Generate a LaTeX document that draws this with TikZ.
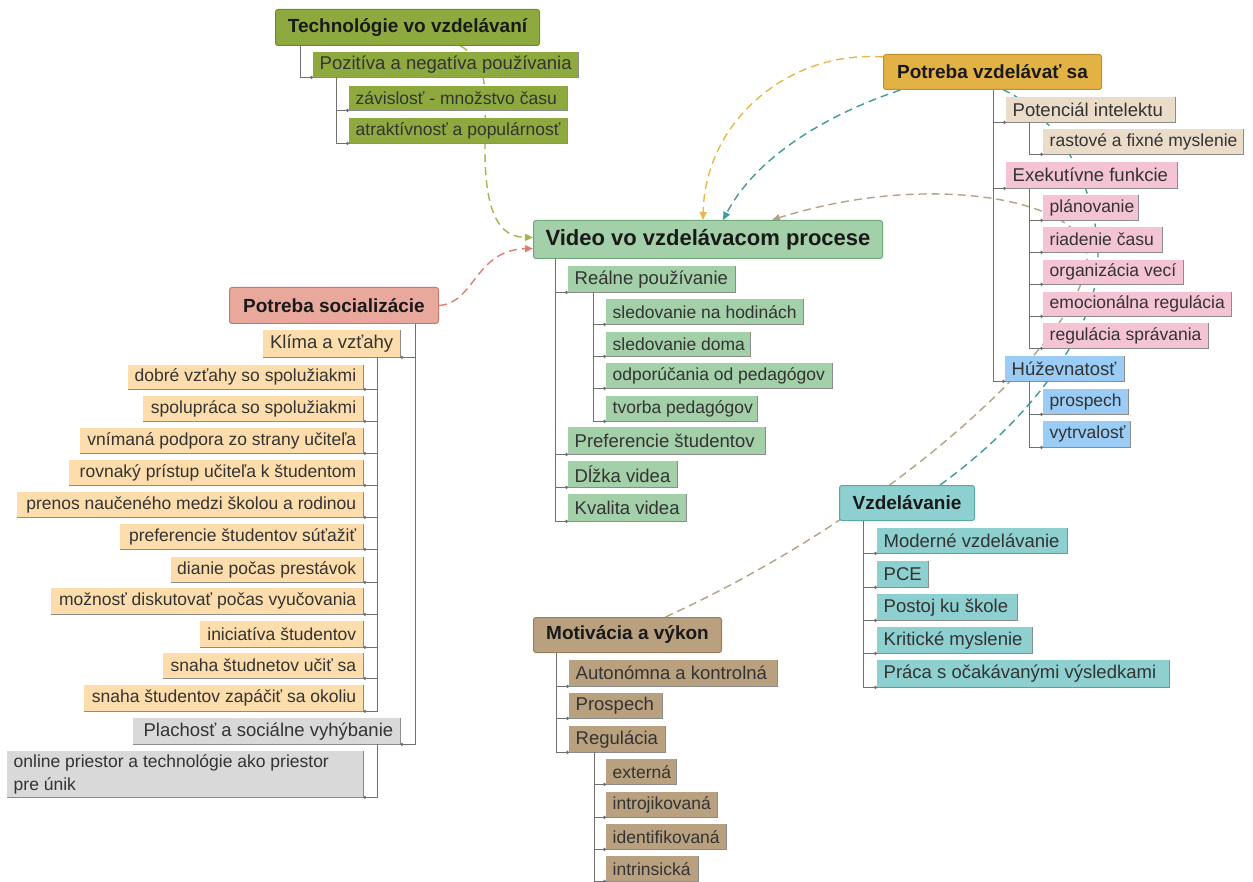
\documentclass[tikz,border=0pt]{standalone}
\usepackage{fontspec}
\setmainfont{Liberation Sans}
\usetikzlibrary{arrows.meta,calc}
\pgfdeclarelayer{background}
\pgfsetlayers{background,main}

\definecolor{cTech}{HTML}{8EAA3E}
\definecolor{cTechB}{HTML}{6E8A2A}
\definecolor{cVid}{HTML}{A3CFA9}
\definecolor{cVidB}{HTML}{6FA87A}
\definecolor{cGold}{HTML}{E2B245}
\definecolor{cGoldB}{HTML}{C09030}
\definecolor{cBeige}{HTML}{EADCC8}
\definecolor{cPink}{HTML}{F4C4D4}
\definecolor{cBlue}{HTML}{9ACCF5}
\definecolor{cSal}{HTML}{E8A89C}
\definecolor{cSalB}{HTML}{C47A6E}
\definecolor{cPeach}{HTML}{FDDDAB}
\definecolor{cGray}{HTML}{D9D9D9}
\definecolor{cTan}{HTML}{B9A17F}
\definecolor{cTanB}{HTML}{957E5E}
\definecolor{cTeal}{HTML}{8ECFCF}
\definecolor{cTealB}{HTML}{5AA6A6}
\definecolor{lGreen}{HTML}{9DB94C}
\definecolor{lRed}{HTML}{D9816F}
\definecolor{lOrange}{HTML}{E8B74A}
\definecolor{lTeal}{HTML}{3E9C9C}
\definecolor{lBrown}{HTML}{B3A284}
\definecolor{treeC}{HTML}{707070}
\definecolor{txtC}{HTML}{333333}

\newcommand{\fsA}{\fontsize{18.5}{22}\selectfont}
\newcommand{\fsB}{\fontsize{17.5}{22}\selectfont}

\tikzset{
  hdr/.style={rounded corners=2.5pt, line width=1pt, inner sep=0pt,
    font=\fontsize{19}{22}\selectfont\bfseries, text=black!90},
  chl/.style={draw=none, inner sep=0pt},
  chtxt/.style={inner sep=0pt, text=txtC},
  shadowl/.style={draw=black!45, line width=0.8pt},
  tree/.style={draw=treeC, line width=0.9pt, -{Circle[length=3pt]}},
  dcurve/.style={line width=1.4pt, dash pattern=on 8pt off 5pt,
    -{Triangle[length=8pt,width=7pt]}},
  dplain/.style={line width=1.4pt, dash pattern=on 8pt off 5pt},
}

% name x1 y1 x2 y2 fill border text
\newcommand{\hdrbox}[8]{%
  \pgfmathsetmacro{\mybw}{#4-#2}\pgfmathsetmacro{\mybh}{#5-#3}%
  \node[hdr, fill=#6, draw=#7, minimum width=\mybw pt, minimum height=\mybh pt,
    anchor=north west] (#1) at (#2,#3) {#8};}

% name x1 y1 x2 y2 fill side(l/r) size text
\newcommand{\chbox}[9]{%
  \pgfmathsetmacro{\mybw}{#4-#2}\pgfmathsetmacro{\mybh}{#5-#3}%
  \node[chl, fill=#6, minimum width=\mybw pt, minimum height=\mybh pt,
    anchor=north west] (#1) at (#2,#3) {};
  \draw[shadowl] (#1.south west) -- (#1.south east) -- (#1.north east);
  \ifx#7l%
    \node[chtxt, anchor=west, font=#8, align=left] (#1t) at ([xshift=6.5pt]#1.west) {#9};
  \else
    \node[chtxt, anchor=east, font=#8, align=right] (#1t) at ([xshift=-7pt]#1.east) {#9};
  \fi}

\begin{document}
\begin{tikzpicture}[x=1pt,y=-1pt]
\useasboundingbox (0,0) rectangle (1253,882);

% headers
\hdrbox{tech}{275}{9}{539}{45}{cTech}{cTechB}{Technológie vo vzdelávaní}
\hdrbox{video}{533}{220}{882}{258}{cVid}{cVidB}{\fontsize{22}{26}\selectfont Video vo vzdelávacom procese}
\hdrbox{vzdel}{883}{54}{1101}{89}{cGold}{cGoldB}{Potreba vzdelávať sa}
\hdrbox{soc}{229}{287}{438}{323}{cSal}{cSalB}{Potreba socializácie}
\hdrbox{motiv}{533}{617}{721}{652}{cTan}{cTanB}{Motivácia a výkon}
\hdrbox{vzdv}{839}{485}{974}{520}{cTeal}{cTealB}{Vzdelávanie}

% Technologie
\chbox{poz}{313}{52}{578}{77}{cTech}{l}{\fsA}{Pozitíva a negatíva používania}
\chbox{zav}{349}{86}{567}{110}{cTech}{l}{\fsB}{závislosť - množstvo času}
\chbox{atr}{349}{118}{567}{143}{cTech}{l}{\fsB}{atraktívnosť a populárnosť}

% Video
\chbox{rea}{568}{266}{735}{292}{cVid}{l}{\fsA}{Reálne používanie}
\chbox{slA}{606}{299}{803}{324}{cVid}{l}{\fsB}{sledovanie na hodinách}
\chbox{slB}{606}{332}{750}{356}{cVid}{l}{\fsB}{sledovanie doma}
\chbox{odp}{606}{363}{832}{388}{cVid}{l}{\fsB}{odporúčania od pedagógov}
\chbox{tvo}{606}{396}{757}{421}{cVid}{l}{\fsB}{tvorba pedagógov}
\chbox{pre}{568}{427}{765}{454}{cVid}{l}{\fsA}{Preferencie študentov}
\chbox{dlz}{568}{461}{677}{487}{cVid}{l}{\fsA}{Dĺžka videa}
\chbox{kva}{568}{494}{686}{521}{cVid}{l}{\fsA}{Kvalita videa}

% Potreba vzdelavat sa
\chbox{pot}{1006}{97}{1175}{122}{cBeige}{l}{\fsA}{Potenciál intelektu}
\chbox{ras}{1043}{129}{1243}{154}{cBeige}{l}{\fsB}{rastové a fixné myslenie}
\chbox{exe}{1006}{162}{1177}{188}{cPink}{l}{\fsA}{Exekutívne funkcie}
\chbox{pla}{1043}{195}{1138}{220}{cPink}{l}{\fsB}{plánovanie}
\chbox{ria}{1043}{227}{1162}{252}{cPink}{l}{\fsB}{riadenie času}
\chbox{org}{1043}{260}{1183}{284}{cPink}{l}{\fsB}{organizácia vecí}
\chbox{emo}{1043}{292}{1231}{316}{cPink}{l}{\fsB}{emocionálna regulácia}
\chbox{reg}{1043}{323}{1208}{348}{cPink}{l}{\fsB}{regulácia správania}
\chbox{huz}{1005}{356}{1124}{381}{cBlue}{l}{\fsA}{Húževnatosť}
\chbox{prs}{1043}{389}{1128}{414}{cBlue}{l}{\fsB}{prospech}
\chbox{vyt}{1043}{421}{1130}{447}{cBlue}{l}{\fsB}{vytrvalosť}

% Potreba socializacie
\chbox{kli}{263}{330}{400}{357}{cPeach}{r}{\fsA}{Klíma a vzťahy}
\chbox{kA}{128}{365}{363}{389}{cPeach}{r}{\fsB}{dobré vzťahy so spolužiakmi}
\chbox{kB}{143}{396}{363}{421}{cPeach}{r}{\fsB}{spolupráca so spolužiakmi}
\chbox{kC}{80}{428}{363}{453}{cPeach}{r}{\fsB}{vnímaná podpora zo strany učiteľa}
\chbox{kD}{69}{460}{363}{485}{cPeach}{r}{\fsB}{rovnaký prístup učiteľa k študentom}
\chbox{kE}{17}{492}{363}{517}{cPeach}{r}{\fsB}{prenos naučeného medzi školou a rodinou}
\chbox{kF}{120}{524}{363}{549}{cPeach}{r}{\fsB}{preferencie študentov súťažiť}
\chbox{kG}{171}{557}{363}{582}{cPeach}{r}{\fsB}{dianie počas prestávok}
\chbox{kH}{51}{588}{363}{614}{cPeach}{r}{\fsB}{možnosť diskutovať počas vyučovania}
\chbox{kI}{200}{621}{363}{647}{cPeach}{r}{\fsB}{iniciatíva študentov}
\chbox{kJ}{163}{653}{363}{678}{cPeach}{r}{\fsB}{snaha študnetov učiť sa}
\chbox{kK}{84}{685}{363}{711}{cPeach}{r}{\fsB}{snaha študentov zapáčiť sa okoliu}
\chbox{plh}{133}{718}{400}{744}{cGray}{r}{\fsA}{Plachosť a sociálne vyhýbanie}
\chbox{onl}{7}{751}{363}{797}{cGray}{l}{\fontsize{17.5}{23}\selectfont}{online priestor a technológie ako priestor\\pre únik}

% Motivacia
\chbox{aut}{569}{660}{777}{686}{cTan}{l}{\fsA}{Autonómna a kontrolná}
\chbox{prp}{569}{693}{662}{718}{cTan}{l}{\fsA}{Prospech}
\chbox{rgl}{569}{726}{665}{752}{cTan}{l}{\fsA}{Regulácia}
\chbox{ext}{606}{759}{676}{784}{cTan}{l}{\fsB}{externá}
\chbox{int}{606}{792}{717}{817}{cTan}{l}{\fsB}{introjikovaná}
\chbox{ide}{606}{824}{726}{849}{cTan}{l}{\fsB}{identifikovaná}
\chbox{ins}{606}{856}{698}{881}{cTan}{l}{\fsB}{intrinsická}

% Vzdelavanie
\chbox{mod}{877}{528}{1067}{553}{cTeal}{l}{\fsA}{Moderné vzdelávanie}
\chbox{pce}{877}{561}{928}{587}{cTeal}{l}{\fsA}{PCE}
\chbox{pos}{877}{594}{1017}{620}{cTeal}{l}{\fsA}{Postoj ku škole}
\chbox{kri}{877}{627}{1032}{653}{cTeal}{l}{\fsA}{Kritické myslenie}
\chbox{pra}{877}{660}{1169}{687}{cTeal}{l}{\fsA}{Práca s očakávanými výsledkami}

% tree connectors
\foreach \c in {poz} \draw[tree] ($(tech.south west)+(25,0)$) |- (\c.south west);
\foreach \c in {zav,atr} \draw[tree] ($(poz.south west)+(23,0)$) |- (\c.south west);
\foreach \c in {rea,pre,dlz,kva} \draw[tree] ($(video.south west)+(22,0)$) |- (\c.south west);
\foreach \c in {slA,slB,odp,tvo} \draw[tree] ($(rea.south west)+(25,0)$) |- (\c.south west);
\foreach \c in {pot,exe,huz} \draw[tree] ($(vzdel.south west)+(110,0)$) |- (\c.south west);
\foreach \c in {ras} \draw[tree] ($(pot.south west)+(23,0)$) |- (\c.south west);
\foreach \c in {pla,ria,org,emo,reg} \draw[tree] ($(exe.south west)+(23,0)$) |- (\c.south west);
\foreach \c in {prs,vyt} \draw[tree] ($(huz.south west)+(24,0)$) |- (\c.south west);
\foreach \c in {kli,plh} \draw[tree] ($(soc.south east)+(-24,0)$) |- (\c.south east);
\foreach \c in {kA,kB,kC,kD,kE,kF,kG,kH,kI,kJ,kK} \draw[tree] ($(kli.south east)+(-23,0)$) |- (\c.south east);
\foreach \c in {onl} \draw[tree] ($(plh.south east)+(-23,0)$) |- (\c.south east);
\foreach \c in {aut,prp,rgl} \draw[tree] ($(motiv.south west)+(23,0)$) |- (\c.south west);
\foreach \c in {ext,int,ide,ins} \draw[tree] ($(rgl.south west)+(25,0)$) |- (\c.south west);
\foreach \c in {mod,pce,pos,kri,pra} \draw[tree] ($(vzdv.south west)+(24,0)$) |- (\c.south west);

% dashed relations (behind boxes)
\begin{pgfonlayer}{background}
\draw[dcurve, draw=lGreen] ([xshift=53pt]tech.south) .. controls (490,62) and (485,90) .. (485,150) .. controls (485,215) and (500,237) .. ([yshift=2pt]video.west);
\draw[dcurve, draw=lRed] (soc.east) .. controls (475,303) and (475,250) .. ([yshift=-9pt]video.west);
\draw[dcurve, draw=lOrange] ([yshift=-3pt]vzdel.north west) .. controls (790,50) and (705,120) .. ([xshift=-5pt]video.north);
\draw[dcurve, draw=lTeal] ([xshift=-92pt]vzdel.south) .. controls (840,110) and (760,150) .. ([xshift=15pt]video.north);
\draw[dcurve, draw=lBrown] ([xshift=38pt]motiv.north) .. controls (900,510) and (1090,330) .. (1087,255) .. controls (1084,200) and (930,170) .. ([xshift=64pt]video.north);
\draw[dplain, draw=lTeal] ([xshift=33pt]vzdv.north) .. controls (1030,420) and (1098,330) .. (1098,258) .. controls (1098,180) and (1050,110) .. ([xshift=11pt]vzdel.south);
\end{pgfonlayer}
\end{tikzpicture}
\end{document}
